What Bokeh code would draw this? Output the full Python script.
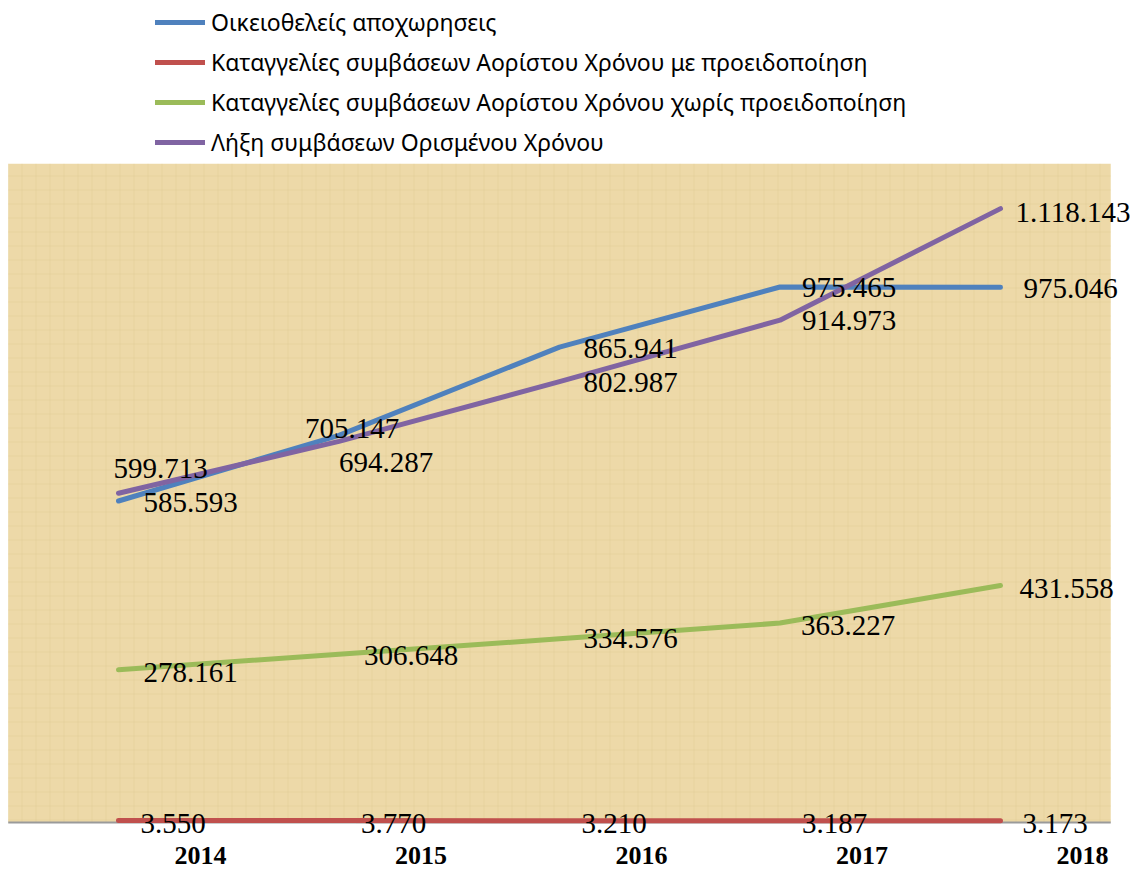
from bokeh.plotting import figure
from bokeh.models import Range1d, BoxAnnotation, Legend, LegendItem, ColumnDataSource
from bokeh.core.properties import value
from bokeh.embed import file_html
from bokeh.resources import INLINE

# ---- data ----
years = [2014, 2015, 2016, 2017, 2018]
voluntary = [585593, 705147, 865941, 975465, 975046]
with_notice = [3550, 3770, 3210, 3187, 3173]
without_notice = [278161, 306648, 334576, 363227, 431558]
fixed_term_end = [599713, 694287, 802987, 914973, 1118143]

series_names = [
    "Οικειοθελείς αποχωρησεις",
    "Καταγγελίες συμβάσεων Αορίστου Χρόνου με προειδοποίηση",
    "Καταγγελίες συμβάσεων Αορίστου Χρόνου χωρίς προειδοποίηση",
    "Λήξη συμβάσεων Ορισμένου Χρόνου",
]
year_labels = [str(y) for y in years]

# ---- styles ----
colors = ["#4F81BD", "#C0504D", "#9BBB59", "#8064A2"]
# label offsets (screen px) per series, per point
label_dx = [
    [25, -34, 24, 22, 23],
    [22, 22, 22, 22, 22],
    [25, 25, 24, 21, 19],
    [-5, 0, 24, 22, 15],
]
label_dy = [
    [1, -7, 1, 1, 1],
    [3, 3, 3, 3, 3],
    [3, 1, 0, 2, 3],
    [-25, 21, 1, 0, 4],
]


def fmt(v):
    return f"{v:,}".replace(",", ".")


p = figure(width=1133, height=870, output_backend="svg", toolbar_location=None,
           x_range=Range1d(2013.4649, 2018.6032), y_range=Range1d(-87432, 1497268),
           min_border=0, min_border_left=0, min_border_right=0,
           min_border_top=0, min_border_bottom=0)
p.xaxis.visible = False
p.yaxis.visible = False
p.grid.visible = False
p.outline_line_color = None
p.background_fill_color = "white"
p.border_fill_color = "white"

# papyrus-like plot area
p.add_layout(BoxAnnotation(left=2013.5, right=2018.5, bottom=0, top=1200000,
                           fill_color="#EDD9A8", fill_alpha=1.0, line_color=None,
                           hatch_pattern="+", hatch_color="#DCC28A", hatch_alpha=0.3,
                           hatch_scale=14, hatch_weight=1, level="underlay"))

# category axis line
p.segment(x0=[years[0] - 0.5], y0=[0], x1=[years[-1] + 0.5], y1=[0],
          line_color="#9A9A9A", line_width=2)

all_series = [voluntary, with_notice, without_notice, fixed_term_end]
renderers = []
for vals, c in zip(all_series, colors):
    r = p.line(years, vals, line_color=c, line_width=5, line_cap="round", line_join="round")
    renderers.append(r)

for i, vals in enumerate(all_series):
    src = ColumnDataSource(dict(x=years, y=vals, t=[fmt(v) for v in vals],
                                dx=label_dx[i], dy=label_dy[i]))
    p.text(x="x", y="y", text="t", x_offset="dx", y_offset="dy", source=src,
           text_font=value("Liberation Serif"), text_font_size="29px",
           text_color="black", text_align="left", text_baseline="middle")

# year labels below the axis
ysrc = ColumnDataSource(dict(x=years, y=[0] * len(years), t=year_labels))
p.text(x="x", y="y", text="t", source=ysrc, x_offset=82, y_offset=33,
       text_font=value("Liberation Serif"), text_font_style="bold", text_font_size="26px",
       text_color="black", text_align="center", text_baseline="middle")

legend = Legend(items=[LegendItem(label=n, renderers=[r]) for n, r in zip(series_names, renderers)],
                location=(155, 708), orientation="vertical",
                glyph_width=50, glyph_height=40, label_height=20, spacing=0,
                label_standoff=6, padding=0, margin=0,
                border_line_color=None, background_fill_alpha=0,
                label_text_font="Noto Sans", label_text_font_size="23px",
                label_text_color="black")
p.add_layout(legend)

open("out.html", "w").write(file_html(p, INLINE))
